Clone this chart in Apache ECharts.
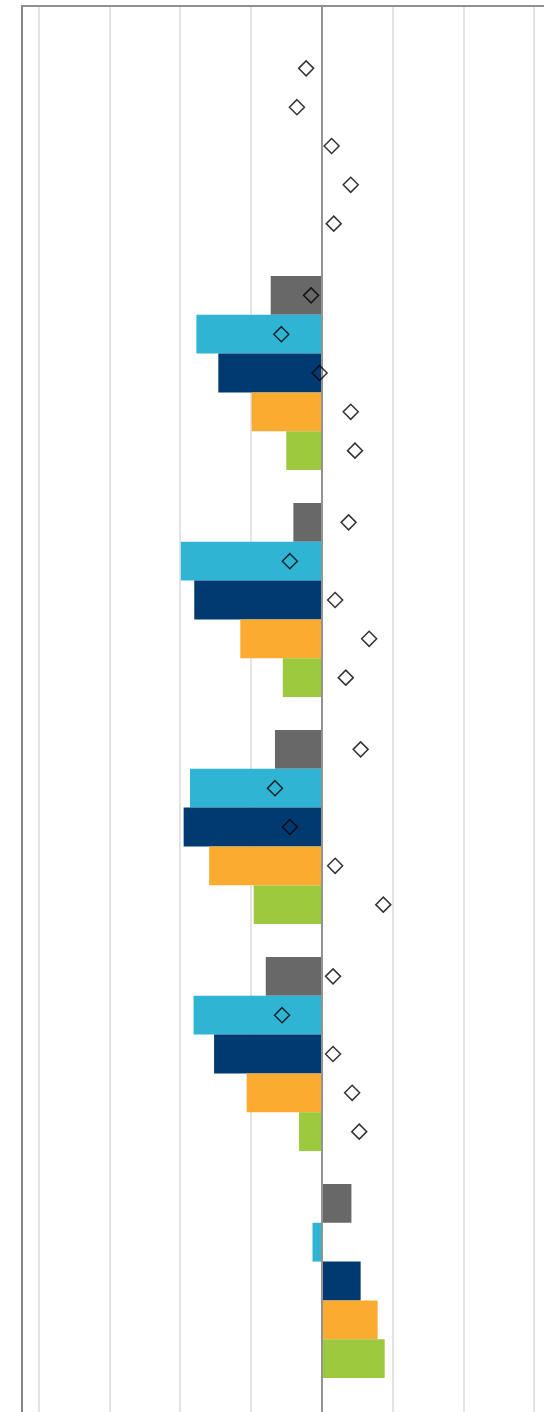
<!DOCTYPE html>
<html>
<head>
<meta charset="utf-8">
<script src="https://cdn.jsdelivr.net/npm/echarts@6/dist/echarts.min.js"></script>
<style>
  html, body { margin: 0; padding: 0; background: #fff; }
  #chart { width: 544px; height: 1412px; }
</style>
</head>
<body>
<div id="chart"></div>
<script>
// ---- data ----
const categories = ['Group 1', 'Group 2', 'Group 3', 'Group 4', 'Group 5', 'Group 6'];
const seriesNames = ['Series A', 'Series B', 'Series C', 'Series D', 'Series E'];
const barA = [null, -0.72, -0.40, -0.66, -0.79, 0.42];
const barB = [null, -1.77, -1.99, -1.86, -1.81, -0.13];
const barC = [null, -1.46, -1.80, -1.95, -1.52, 0.55];
const barD = [null, -0.99, -1.15, -1.59, -1.06, 0.79];
const barE = [null, -0.50, -0.55, -0.96, -0.32, 0.89];
const dotA = [-0.22, -0.15, 0.38, 0.55, 0.16, null];
const dotB = [-0.35, -0.57, -0.45, -0.66, -0.56, null];
const dotC = [0.14, -0.03, 0.19, -0.45, 0.16, null];
const dotD = [0.41, 0.41, 0.67, 0.19, 0.43, null];
const dotE = [0.17, 0.47, 0.34, 0.87, 0.53, null];
const xTicks = [-4, -3, -2, -1, 0, 1, 2, 3, 4];

// ---- layout / style ----
const colors = ['#686868', '#30b4d3', '#003a70', '#fbab30', '#9dc93f'];
const unitPx = 70.8;
const plotLeft = 38.5;
const frameLeft = 22;
const frameTop = 6;
const bandPx = 227;
const catGapPct = 14.5;
const dataTop = 32.5;
const barW = bandPx * (1 - catGapPct / 100) / 5;
const xMin = xTicks[0], xMax = xTicks[xTicks.length - 1];
const plotWidth = (xMax - xMin) * unitPx;
const frameMin = xMin - (plotLeft - frameLeft) / unitPx;

const bars = [barA, barB, barC, barD, barE];
const dots = [dotA, dotB, dotC, dotD, dotE];

const series = [];
bars.forEach((arr, i) => {
  series.push({
    name: seriesNames[i],
    type: 'bar',
    xAxisIndex: 2, yAxisIndex: 3,
    data: arr.map(v => v == null ? '-' : v),
    barGap: '0%',
    barCategoryGap: catGapPct + '%',
    itemStyle: { color: colors[i] },
    z: 2
  });
});
dots.forEach((arr, i) => {
  series.push({
    name: seriesNames[i] + ' marker',
    type: 'scatter',
    xAxisIndex: 2, yAxisIndex: 3,
    data: arr.map((v, k) => v == null ? null : [v, categories[k]]).filter(d => d),
    symbol: 'diamond',
    symbolSize: 15,
    symbolOffset: [0, (i - 2) * barW],
    itemStyle: { color: 'rgba(0,0,0,0)', borderColor: '#000', borderWidth: 1.5 },
    z: 12
  });
});

const chart = echarts.init(document.getElementById('chart'), null, { renderer: 'canvas' });
chart.setOption({
  animation: false,
  backgroundColor: '#fff',
  grid: [
    { left: frameLeft, top: frameTop, width: plotWidth + (plotLeft - frameLeft), height: 1500, containLabel: false, outerBoundsMode: 'none', z: 10 },
    { left: plotLeft, top: frameTop, width: plotWidth, height: 1500, containLabel: false, outerBoundsMode: 'none' },
    { left: plotLeft, top: dataTop, width: plotWidth, height: bandPx * categories.length, containLabel: false, outerBoundsMode: 'none' }
  ],
  xAxis: [
    { gridIndex: 0, type: 'value', position: 'top', min: frameMin, max: xMax, z: 10,
      axisLine: { show: true, onZero: false, lineStyle: { color: '#8f8f8f', width: 2 } },
      axisTick: { show: false }, axisLabel: { show: false }, splitLine: { show: false } },
    { gridIndex: 1, type: 'value', position: 'bottom', min: xMin, max: xMax, interval: 1,
      axisLine: { show: false }, axisTick: { show: false }, axisLabel: { show: false },
      splitLine: { show: true, lineStyle: { color: '#e4e4e4', width: 2 } } },
    { gridIndex: 2, type: 'value', min: xMin, max: xMax, interval: 1, show: false,
      splitLine: { show: false } }
  ],
  yAxis: [
    { gridIndex: 0, type: 'value', min: 0, max: 1, position: 'left', z: 10,
      axisLine: { show: true, onZero: true, lineStyle: { color: '#939393', width: 2 } },
      axisTick: { show: false }, axisLabel: { show: false }, splitLine: { show: false } },
    { gridIndex: 0, type: 'value', min: 0, max: 1, position: 'left', z: 10,
      axisLine: { show: true, onZero: false, lineStyle: { color: '#858585', width: 2 } },
      axisTick: { show: false }, axisLabel: { show: false }, splitLine: { show: false } },
    { gridIndex: 1, type: 'value', min: 0, max: 1, show: false, splitLine: { show: false } },
    { gridIndex: 2, type: 'category', data: categories, inverse: true, show: false }
  ],
  series: series
});
</script>
</body>
</html>
